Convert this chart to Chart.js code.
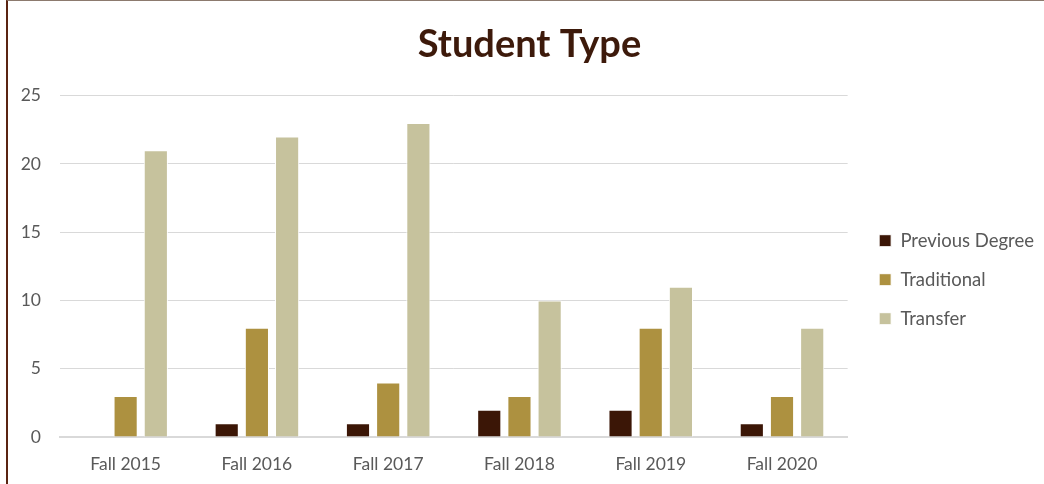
<!DOCTYPE html>
<html>
<head>
<meta charset="utf-8">
<script src="https://cdn.jsdelivr.net/npm/chart.js@4/dist/chart.umd.min.js"></script>
<style>
  html, body { margin: 0; padding: 0; background: #fff; }
  .frame {
    position: relative;
    width: 1036px; height: 483px;
    margin-left: 6px;
    border-left: 2px solid #5a2412;
    border-top: 1px solid #8c7a6e;
  }
  #chart { display: block; }
</style>
</head>
<body>
<div class="frame">
  <canvas id="chart" width="1036" height="483"></canvas>
</div>
<script>
// data
const years = ['Fall 2015', 'Fall 2016', 'Fall 2017', 'Fall 2018', 'Fall 2019', 'Fall 2020']
const previousDegree = [0, 1, 1, 2, 2, 1]
const traditional = [3, 8, 4, 3, 8, 3]
const transfer = [21, 22, 23, 10, 11, 8]
const yTicks = [0, 5, 10, 15, 20, 25]

const font = "Lato, 'Open Sans', sans-serif"

// push the legend a bit further from the plot, nudge the title right
const boxShift = {
    id: 'boxShift',
    afterLayout(chart) {
        chart.legend.left += 11
        chart.legend.right += 11
        chart.titleBlock.left += 9
        chart.titleBlock.right += 9
    }
}

var ctx = document.getElementById('chart').getContext('2d')
var myChart = new Chart(ctx, {
    type: 'bar',
    data: {
        labels: years,
        datasets: [
            { label: 'Previous Degree', data: previousDegree, backgroundColor: '#3b1606' },
            { label: 'Traditional', data: traditional, backgroundColor: '#ad9140' },
            { label: 'Transfer', data: transfer, backgroundColor: '#c6c29d' }
        ]
    },
    options: {
        responsive: false,
        animation: false,
        datasets: {
            bar: {
                borderColor: '#ffffff',
                borderWidth: 1,
                categoryPercentage: 0.69,
                barPercentage: 0.8
            }
        },
        layout: { padding: { left: 0, right: 11, top: 8, bottom: 0 } },
        plugins: {
            title: {
                display: true,
                text: 'Student Type',
                color: '#3d1a0b',
                font: { family: font, size: 38, weight: 'bold' },
                padding: { top: 13, bottom: 28 }
            },
            legend: {
                position: 'right',
                title: {
                    display: true,
                    text: ' ',
                    font: { size: 2 },
                    padding: { top: 0, bottom: 64 }
                },
                labels: {
                    color: '#595959',
                    font: { family: font, size: 18.5 },
                    boxWidth: 12,
                    boxHeight: 12,
                    padding: 20.5
                }
            },
            tooltip: { enabled: false }
        },
        scales: {
            x: {
                grid: { display: false },
                border: { color: '#d9d9d9', width: 2 },
                ticks: { color: '#595959', font: { family: font, size: 17.5 }, padding: 9 }
            },
            y: {
                min: 0,
                max: 25,
                afterBuildTicks: (axis) => { axis.ticks = yTicks.map(v => ({ value: v })) },
                afterFit: (axis) => { axis.width = 52 },
                grid: { color: '#d9d9d9', lineWidth: 1, drawTicks: false },
                border: { display: false },
                ticks: { color: '#595959', font: { family: font, size: 17.5 }, padding: 19 }
            }
        }
    },
    plugins: [boxShift]
})
</script>
</body>
</html>
